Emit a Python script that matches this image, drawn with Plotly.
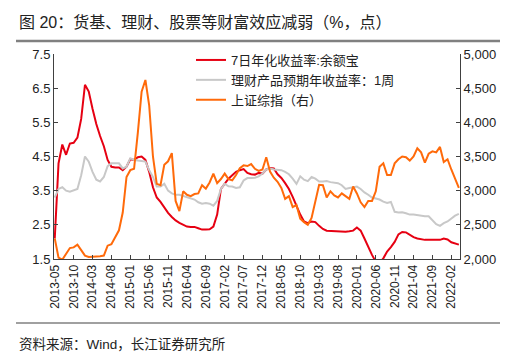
import plotly.graph_objects as go
import pandas as pd

months = pd.date_range("2013-05-01", "2022-04-01", freq="MS").strftime("%Y-%m").tolist()

yuebao = [2.1, 4.3, 4.85, 4.55, 4.88, 4.9, 5.05, 5.6, 6.6, 6.4,
          5.9, 5.45, 5.1, 4.8, 4.4, 4.2, 4.18, 4.18, 4.1, 4.2,
          4.42, 4.4, 4.48, 4.5, 4.4, 4.05, 3.6, 3.3, 3.17, 3.0,
          2.85, 2.73, 2.63, 2.56, 2.5, 2.45, 2.44, 2.44, 2.4, 2.36,
          2.36, 2.37, 2.45, 2.8, 3.55, 3.72, 3.85, 3.95, 4.05, 4.1,
          4.13, 4.02, 3.98, 3.97, 4.02, 4.0, 4.12, 4.16, 4.15, 3.98,
          3.87, 3.72, 3.55, 3.32, 3.05, 2.8, 2.6, 2.55, 2.6, 2.58,
          2.47, 2.38, 2.33, 2.32, 2.32, 2.31, 2.31, 2.3, 2.31, 2.33,
          2.42, 2.33, 2.1, 1.85, 1.62, 1.42, 1.38, 1.52, 1.72, 1.85,
          2.0, 2.22, 2.29, 2.28, 2.2, 2.14, 2.1, 2.07, 2.06, 2.06,
          2.06, 2.06, 2.06, 2.1, 2.07, 1.99, 1.95, 1.92]

wealth = [3.3, 3.55, 3.6, 3.5, 3.47, 3.5, 3.55, 3.95, 4.5, 4.35,
          4.05, 3.82, 3.77, 3.9, 4.22, 4.3, 4.3, 4.3, 4.15, 4.2,
          4.45, 4.4, 4.38, 4.37, 4.35, 4.1, 3.9, 3.62, 3.62, 3.7,
          3.5, 3.42, 3.38, 3.38, 3.35, 3.3, 3.29, 3.24, 3.16, 3.12,
          3.14, 3.12, 3.06, 3.2, 3.55, 3.7, 3.63, 3.62, 3.58, 3.6,
          3.8, 3.87, 3.87, 3.88, 3.92, 4.0, 4.12, 4.15, 4.12, 4.1,
          4.1, 4.05, 3.98, 3.85, 3.7, 3.92, 3.82, 3.78, 3.9, 3.85,
          3.77, 3.77, 3.78, 3.75, 3.73, 3.72, 3.66, 3.55, 3.58, 3.6,
          3.62, 3.55, 3.45, 3.38, 3.3, 3.27, 3.24, 3.18, 3.14, 3.17,
          2.88, 2.86, 2.87, 2.84, 2.8, 2.8, 2.78, 2.76, 2.75, 2.75,
          2.62, 2.52, 2.47, 2.55, 2.6, 2.68, 2.77, 2.82]

sse = [2300, 2020, 1990, 2080, 2160, 2170, 2210, 2130, 2050, 2030,
       2030, 2040, 2040, 2050, 2195, 2215, 2320, 2420, 2680, 3200,
       3300, 3320, 3850, 4450, 4620, 4250, 3500, 3100, 3080, 3380,
       3430, 3550, 2850, 2700, 2990, 2940, 2920, 2950, 2960, 3080,
       3030, 3120, 3250, 3110, 3170, 3250, 3170, 3150, 3230, 3330,
       3370, 3360, 3390, 3320, 3290, 3310, 3490, 3280, 3190, 3130,
       3040, 2880, 2920, 2760, 2790, 2590, 2540, 2500, 2600, 2850,
       3085, 3080, 2900, 2990, 2930, 2900, 2960, 2920, 2880, 3060,
       2960, 2830, 2760, 2850, 2850, 2990, 3350, 3400, 3230, 3230,
       3400, 3460, 3500, 3490, 3440, 3500, 3620, 3560, 3410, 3540,
       3575, 3560, 3640, 3420, 3460, 3310, 3170, 3040]

tick_labels = months[::5]

names = ["7日年化收益率:余额宝", "理财产品预期年收益率：1周", "上证综指（右）"]
colors = ["#e60012", "#c8c8c8", "#ff6a0a"]

FONT = "Arial, 'Liberation Sans', 'Noto Sans CJK SC', sans-serif"

fig = go.Figure()
fig.add_trace(go.Scatter(x=months, y=yuebao, name=names[0], mode="lines",
                         line=dict(color=colors[0], width=2)))
fig.add_trace(go.Scatter(x=months, y=wealth, name=names[1], mode="lines",
                         line=dict(color=colors[1], width=2)))
fig.add_trace(go.Scatter(x=months, y=sse, name=names[2], mode="lines", yaxis="y2",
                         line=dict(color=colors[2], width=2)))

L, R, T, B = 46, 452, 46, 251
W, H = 508, 358


def px(x):
    return (x - L) / (R - L)


def py(y):
    return (B - y) / (B - T)


axis_color = "#404040"
fig.update_layout(
    width=W, height=H,
    margin=dict(l=L, r=W - R, t=T, b=H - B, pad=0),
    paper_bgcolor="white", plot_bgcolor="white",
    font=dict(family=FONT, size=13, color="#222222"),
    showlegend=True,
    legend=dict(x=px(183), y=py(37), xanchor="left", yanchor="top",
                bgcolor="rgba(0,0,0,0)", font=dict(size=13, color="#222222"),
                tracegroupgap=0),
    xaxis=dict(type="category", range=[-0.2, 107.3], tickmode="array",
               tickvals=tick_labels, ticktext=tick_labels, tickangle=-90,
               ticks="inside", ticklen=4, tickcolor=axis_color,
               showline=True, linecolor=axis_color, linewidth=1,
               showgrid=False, zeroline=False,
               tickfont=dict(size=12, color="#222222")),
    yaxis=dict(range=[1.5, 7.5], tick0=1.5, dtick=1, tickformat=".1f",
               ticks="inside", ticklen=4, tickcolor=axis_color,
               showline=True, linecolor=axis_color, linewidth=1,
               showgrid=False, zeroline=False,
               tickfont=dict(size=13, color="#222222")),
    yaxis2=dict(range=[2000, 5000], tick0=2000, dtick=500, tickformat=",",
                overlaying="y", side="right",
                ticks="inside", ticklen=4, tickcolor=axis_color,
                showline=True, linecolor=axis_color, linewidth=1,
                showgrid=False, zeroline=False,
                tickfont=dict(size=13, color="#222222")),
)

fig.add_annotation(text="图 20：货基、理财、股票等财富效应减弱（%，点）",
                   xref="paper", yref="paper", x=px(9), y=py(14),
                   xanchor="left", yanchor="middle", showarrow=False,
                   font=dict(size=16, color="#222222"))
fig.add_annotation(text="资料来源：Wind，长江证券研究所",
                   xref="paper", yref="paper", x=px(9), y=py(336),
                   xanchor="left", yanchor="middle", showarrow=False,
                   font=dict(size=13.5, color="#222222"))

fig.add_shape(type="line", xref="paper", yref="paper",
              x0=px(8), x1=px(505), y0=py(33), y1=py(33),
              line=dict(color="#808080", width=2.5))
fig.add_shape(type="line", xref="paper", yref="paper",
              x0=px(8), x1=px(505), y0=py(315), y1=py(315),
              line=dict(color="#808080", width=1.5))

fig.write_html("out.html")
